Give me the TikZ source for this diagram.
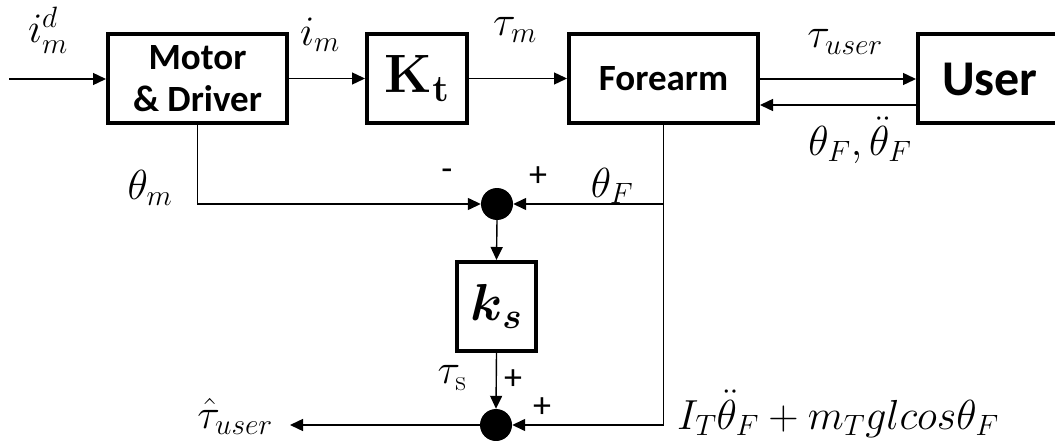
\RequirePackage{fix-cm}
\documentclass[tikz,border=0pt]{standalone}
\usepackage{amsmath}
\usepackage{bm}
\usepackage[no-math]{fontspec}
\newfontfamily\boxfont{Carlito}
\usetikzlibrary{arrows.meta,calc}
\begin{document}
\begin{tikzpicture}[x=1pt,y=-1pt,
  blk/.style={draw, line width=4pt, minimum height=89pt, inner sep=0pt, align=center},
  sumn/.style={circle, fill=black, minimum size=32pt, inner sep=0pt},
  arr/.style={line width=1.4pt, -{Triangle[length=13pt,width=12pt]}},
  lbl/.style={inner sep=0pt, font=\fontsize{42}{48}\selectfont},
  sgn/.style={inner sep=0pt, font=\boxfont\fontsize{36}{40}\selectfont}]
\clip (0,0) rectangle (1055,441);
% blocks
\node[blk, minimum width=179pt, font=\boxfont\bfseries\fontsize{37}{42}\selectfont] (motor) at (197.5,78.5) {Motor\\\& Driver};
\node[blk, minimum width=100pt, font=\fontsize{54}{58}\selectfont] (kt) at (417,78.5) {$\mathbf{K}_{\mathbf{t}}$};
\node[blk, minimum width=189pt, font=\boxfont\bfseries\fontsize{37}{42}\selectfont] (fore) at (663.5,78.5) {Forearm};
\node[blk, minimum width=144pt, font=\boxfont\bfseries\fontsize{50}{54}\selectfont] (user) at (990,79) {User};
\node[sumn] (sum1) at (497,204) {};
\node[blk, minimum width=79pt, font=\fontsize{52}{56}\selectfont] (ks) at (496.5,306.5) {$\bm{k_s}$};
\node[sumn] (sum2) at (496,425) {};
\coordinate (in) at (9,79);
\coordinate (out) at (290,425);
% connectors
\draw[arr] (in) -- (in -| motor.west);
\draw[arr] (motor.east) -- (kt.west);
\draw[arr] (kt.east) -- (fore.west);
\draw[arr] (fore.east |- user.west) -- (user.west);
\draw[arr] ([yshift=-26pt]user.west) -- ([yshift=-26pt]user.west -| fore.east);
\draw[arr] (motor.south) |- (sum1.west);
\draw[arr] (fore.south) |- (sum1.east);
\draw[arr] (fore.south) |- (sum2.east);
\draw[arr] (sum1.south) -- (ks.north);
\draw[arr] (ks.south) -- (sum2.north);
\draw[arr] (sum2.west) -- (out);
% labels
\node[lbl] (lid) at (48,30) {$i_m^d$};
\node[lbl] (lim) at (320,35) {$i_m$};
\node[lbl] (ltm) at (515,30) {$\tau_m$};
\node[lbl] (ltu) at (845,42) {$\tau_{user}$};
\node[lbl] (lth) at (860,140) {$\theta_F, \ddot{\theta}_F$};
\node[lbl] (lthm) at (150,188) {$\theta_m$};
\node[lbl] (lthF) at (612,186) {$\theta_F$};
\node[lbl] (lts) at (452,378) {$\tau_{\mathrm{s}}$};
\node[lbl, anchor=base] (lhat) at (235,428) {$\hat{\tau}_{user}$};
\node[lbl, anchor=base west] (leq) at (677,429) {$I_T\ddot{\theta}_F + m_T g l cos\theta_F$};
\node[sgn] (sa) at (447,175) {-};
\node[sgn] (sb) at (538,177) {+};
\node[sgn] (sc) at (513,380) {+};
\node[sgn] (sd) at (542,408) {+};
\end{tikzpicture}
\end{document}
